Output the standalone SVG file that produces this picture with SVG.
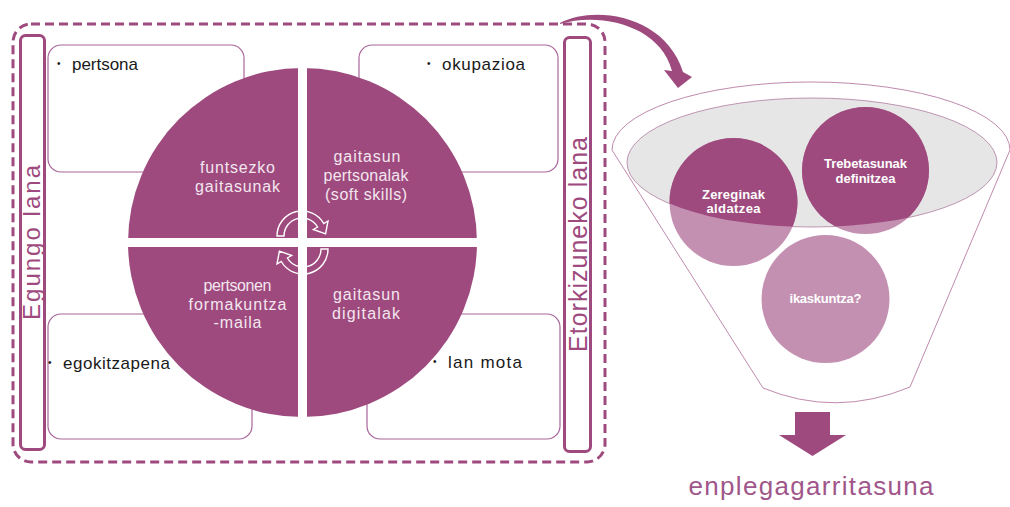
<svg xmlns="http://www.w3.org/2000/svg" width="1010" height="507" viewBox="0 0 1010 507">
<style>
.box{fill:#ffffff;stroke:#a9669a;stroke-width:1.2}
.bar{fill:none;stroke:#9e4a7e;stroke-width:3}
.bartxt{font-family:"Liberation Sans",Arial,sans-serif;font-size:24px;fill:#9e4a7e}
.btxt{font-family:"Liberation Sans",Arial,sans-serif;font-size:17px;fill:#1a1a1a}
.bul{font-family:"Liberation Sans",Arial,sans-serif;font-size:10px;fill:#1a1a1a}
.qtxt{font-family:"Liberation Sans",Arial,sans-serif;font-size:16px;fill:#f3e6ef;text-anchor:middle}
.ctxt{font-family:"Liberation Sans",Arial,sans-serif;font-size:13px;font-weight:bold;fill:#ffffff;text-anchor:middle}
.purple{fill:#9e4a7e}
.light{fill:#c490b2}
</style>
<defs>
<clipPath id="ellClip"><ellipse cx="812" cy="162.5" rx="185" ry="64.5"/></clipPath>
</defs>
<rect width="1010" height="507" fill="#ffffff"/>

<g id="frame">
<rect x="13" y="24" width="592" height="438" rx="18" fill="none" stroke="#9e4a7e" stroke-width="3" stroke-dasharray="9 5"/>
</g>

<g id="box-pertsona">
<rect class="box" x="48" y="45" width="196" height="127" rx="13"/>
<text class="bul" x="57" y="67">•</text><text class="btxt" x="72" y="70" textLength="66">pertsona</text>
</g>
<g id="box-okupazioa">
<rect class="box" x="359" y="45" width="199" height="127" rx="13"/>
<text class="bul" x="427" y="67">•</text><text class="btxt" x="442" y="70" textLength="83">okupazioa</text>
</g>
<g id="box-egokitzapena">
<rect class="box" x="48" y="314" width="204" height="125" rx="13"/>
<text class="bul" x="48" y="366">•</text><text class="btxt" x="63" y="369" textLength="107">egokitzapena</text>
</g>
<g id="box-lanmota">
<rect class="box" x="367" y="314" width="193" height="125" rx="13"/>
<text class="bul" x="433" y="365">•</text><text class="btxt" x="448" y="368" textLength="74">lan mota</text>
</g>

<g id="bar-egungo">
<rect class="bar" x="20.5" y="35.5" width="24" height="414" rx="5"/>
<text class="bartxt" transform="translate(40,320) rotate(-90)" textLength="155">Egungo lana</text>
</g>
<g id="bar-etorkizuneko">
<rect class="bar" x="564.5" y="37.5" width="26" height="414" rx="5"/>
<text class="bartxt" style="font-size:25px" transform="translate(587,352) rotate(-90)" textLength="215">Etorkizuneko lana</text>
</g>

<g id="wheel">
<circle class="purple" cx="302.5" cy="242.5" r="174.5"/>
<rect x="298" y="60" width="9" height="365" fill="#ffffff"/>
<rect x="120" y="238" width="365" height="9" fill="#ffffff"/>
<g id="q-funtsezko">
<text class="qtxt" x="237.5" y="173" textLength="75">funtsezko</text>
<text class="qtxt" x="237.5" y="192" textLength="85">gaitasunak</text>
</g>
<g id="q-pertsonalak">
<text class="qtxt" x="367" y="162" textLength="67">gaitasun</text>
<text class="qtxt" x="366" y="181" textLength="85">pertsonalak</text>
<text class="qtxt" x="366" y="200" textLength="82">(soft skills)</text>
</g>
<g id="q-formakuntza">
<text class="qtxt" x="237.5" y="291" textLength="68">pertsonen</text>
<text class="qtxt" x="237.5" y="310" textLength="98">formakuntza</text>
<text class="qtxt" x="237.5" y="328" textLength="48">-maila</text>
</g>
<g id="q-digitalak">
<text class="qtxt" x="366.5" y="300" textLength="67">gaitasun</text>
<text class="qtxt" x="366" y="319" textLength="68">digitalak</text>
</g>
</g>

<g id="funnel">
<path d="M612,150 A199,68 0 0 1 1010,150 L910,387 Q836,418 763,388 Z" fill="#ffffff" stroke="#c08aae" stroke-width="1"/>
<ellipse cx="812" cy="162.5" rx="185" ry="64.5" fill="#e6e6e6" stroke="#b07ca0" stroke-width="0.8"/>
</g>
<g id="circle-zereginak">
<circle class="light" cx="733.5" cy="202" r="64"/>
<circle class="purple" cx="733.5" cy="202" r="64" clip-path="url(#ellClip)"/>
<text class="ctxt" x="733.5" y="199" textLength="63">Zereginak</text>
<text class="ctxt" x="733.5" y="213" textLength="54">aldatzea</text>
</g>
<g id="circle-trebetasunak">
<circle class="light" cx="865.5" cy="170.5" r="63.5"/>
<circle class="purple" cx="865.5" cy="170.5" r="63.5" clip-path="url(#ellClip)"/>
<text class="ctxt" x="865.5" y="168" textLength="83">Trebetasunak</text>
<text class="ctxt" x="865.5" y="183" textLength="60">definitzea</text>
</g>
<g id="circle-ikaskuntza">
<circle class="light" cx="825.5" cy="299" r="64"/>
<text class="ctxt" x="825.5" y="303" textLength="72">ikaskuntza?</text>
</g>

<g id="result">
<text x="811" y="495" text-anchor="middle" font-family="'Liberation Sans',Arial,sans-serif" font-size="26" fill="#a0568a" textLength="245">enplegagarritasuna</text>
</g>

<g id="connectors">
<path d="M277,236 A25,25 0 0 1 323.7,223.5 L328,221 L325.6,233.9 L313.3,229.5 L317.6,227 A18,18 0 0 0 284,236 Z" fill="none" stroke="#ffffff" stroke-width="1.4" stroke-linejoin="miter"/>
<path transform="rotate(180 302.5 242.5)" d="M277,236 A25,25 0 0 1 323.7,223.5 L328,221 L325.6,233.9 L313.3,229.5 L317.6,227 A18,18 0 0 0 284,236 Z" fill="none" stroke="#ffffff" stroke-width="1.4"/>
<path d="M560,23 C595,5 665,15 683,72 L692,77 L678,88 L664,70 L672,71 C660,25 600,12 560,24 Z" class="purple"/>
<path d="M795,412 H830 V435 H846 L812.5,456 L779,435 H795 Z" class="purple"/>
</g>
</svg>
